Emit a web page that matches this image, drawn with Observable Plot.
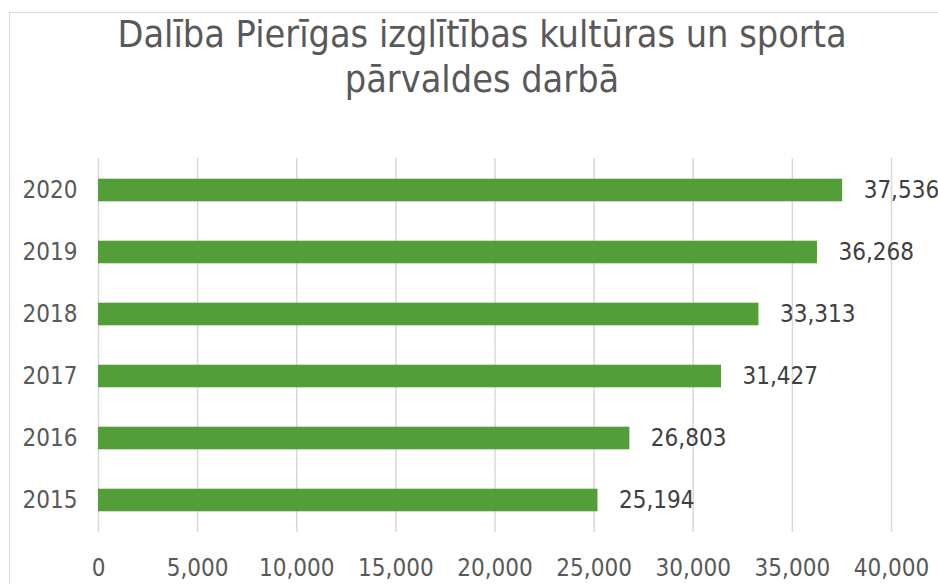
<!DOCTYPE html>
<html>
<head>
<meta charset="utf-8">
<script src="https://cdn.jsdelivr.net/npm/d3@7"></script>
<script src="https://cdn.jsdelivr.net/npm/@observablehq/plot@0.6"></script>
<style>
  html, body { margin: 0; padding: 0; background: #fff; }
  #wrap { position: relative; width: 938px; height: 584px; overflow: hidden; font-family: "DejaVu Sans Condensed", "DejaVu Sans", sans-serif; }
  #frame { position: absolute; left: 9px; top: 12px; width: 960px; height: 600px; border: 1px solid #d9d9d9; box-sizing: border-box; }
  #title { position: absolute; left: 10px; width: 944px; top: 12px; text-align: center; color: #595959; font-size: 37.5px; line-height: 45px; }
  #chart { position: absolute; left: 0; top: 0; }
</style>
</head>
<body>
<div id="wrap">
  <div id="frame"></div>
  <div id="chart"></div>
  <div id="title">Dalība Pierīgas izglītības kultūras un sporta<br>pārvaldes darbā</div>
</div>
<script>
const years = ["2015", "2016", "2017", "2018", "2019", "2020"];
const values = [25194, 26803, 31427, 33313, 36268, 37536];
const xTicks = [0, 5000, 10000, 15000, 20000, 25000, 30000, 35000, 40000];

const data = years.map((y, i) => ({year: y, value: values[i]}));
const fmt = d3.format(",");

const plot = Plot.plot({
  width: 938,
  height: 584,
  marginTop: 158,
  marginBottom: 52,
  marginLeft: 98,
  marginRight: 47,
  style: {fontFamily: "'DejaVu Sans Condensed', 'DejaVu Sans', sans-serif", background: "transparent", overflow: "visible"},
  x: {domain: [0, 40000]},
  y: {domain: years.slice().reverse(), padding: 0},
  marks: [
    Plot.ruleX(xTicks, {stroke: "#d9d9d9", strokeWidth: 1.5}),
    Plot.barX(data, {x: "value", y: "year", fill: "#549e39", insetTop: 19.7, insetBottom: 19.7}),
    Plot.text(data, {x: "value", y: "year", text: d => fmt(d.value), textAnchor: "start", dx: 21, fill: "#404040", fontSize: 24}),
    Plot.axisX({ticks: xTicks, tickFormat: d => fmt(d), tickSize: 0, tickPadding: 26, fontSize: 24, color: "#595959", label: null}),
    Plot.axisY({tickSize: 0, tickPadding: 21, fontSize: 24, color: "#595959", label: null})
  ]
});
document.getElementById("chart").appendChild(plot);
</script>
</body>
</html>
